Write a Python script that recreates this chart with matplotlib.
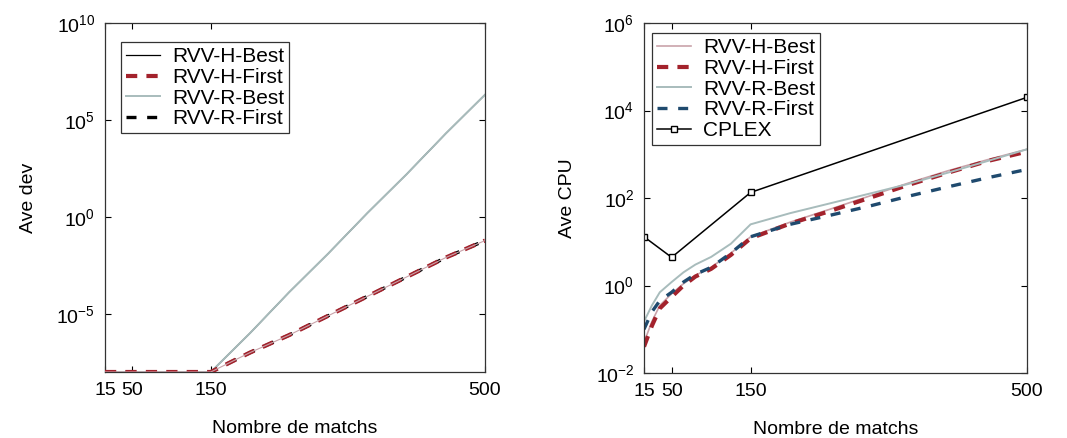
import matplotlib
matplotlib.use("Agg")
import matplotlib.pyplot as plt
from matplotlib.ticker import FixedLocator, NullLocator

plt.rcParams['font.family'] = ['Liberation Sans', 'DejaVu Sans']
plt.rcParams['mathtext.default'] = 'regular'

# ---- data: left panel (Ave dev) ----
x_dev = [15, 50, 100, 150, 200, 250, 300, 350, 400, 450, 500]
dev_h_best = [1e-8, 1e-8, 1e-8, 1e-8, 1e-6, 1.3e-4, 1.3e-2, 1.6, 1.6e2, 2e4, 2e6]
dev_h_first = [1e-8, 1e-8, 1e-8, 1e-8, 1e-7, 8e-7, 8e-6, 8e-5, 8e-4, 8e-3, 6e-2]
dev_r_best = [1e-8, 1e-8, 1e-8, 1e-8, 1e-6, 1.3e-4, 1.3e-2, 1.6, 1.6e2, 2e4, 2e6]
dev_r_first = [1e-8, 1e-8, 1e-8, 1e-8, 1e-7, 8e-7, 8e-6, 8e-5, 8e-4, 8e-3, 6e-2]

# ---- data: right panel (Ave CPU) ----
x_cpu = [15, 25, 35, 50, 65, 80, 100, 125, 150, 200, 250, 300, 350, 400, 450, 500]
cpu_h_best = [0.05, 0.15, 0.35, 0.65, 1.1, 1.7, 2.6, 5.5, 13, 28, 55, 110, 220, 420, 750, 1300]
cpu_h_first = [0.04, 0.12, 0.3, 0.55, 1.0, 1.6, 2.4, 5.0, 12, 26, 50, 100, 200, 380, 700, 1150]
cpu_r_best = [0.15, 0.35, 0.7, 1.2, 2.0, 3.0, 4.5, 9, 25, 45, 75, 125, 210, 380, 700, 1300]
cpu_r_first = [0.1, 0.25, 0.45, 0.7, 1.2, 1.8, 2.6, 5.5, 13, 25, 40, 65, 110, 180, 290, 450]
x_cplex = [15, 50, 150, 500]
cpu_cplex = [13, 4.4, 134, 2e4]

x_ticks = [15, 50, 150, 500]
x_ticklabels = ["15", "50", "150", "500"]
dev_yticks = [1e-5, 1e0, 1e5, 1e10]
dev_yticklabels = [r'$10^{-5}$', r'$10^{0}$', r'$10^{5}$', r'$10^{10}$']
cpu_yticks = [1e-2, 1e0, 1e2, 1e4, 1e6]
cpu_yticklabels = [r'$10^{-2}$', r'$10^{0}$', r'$10^{2}$', r'$10^{4}$', r'$10^{6}$']

labels4 = ["RVV-H-Best", "RVV-H-First", "RVV-R-Best", "RVV-R-First"]

W, H = 1067, 438
fig = plt.figure(figsize=(W / 100, H / 100), dpi=100)

def px_axes(x0, x1, ytop, ybot):
    return fig.add_axes([x0 / W, 1 - ybot / H, (x1 - x0) / W, (ybot - ytop) / H])

ax1 = px_axes(105, 485, 23, 372)
ax2 = px_axes(644, 1027, 23, 373)

red = '#a3222c'
teal = '#a8bcbc'
pink = '#c9a3aa'
blue = '#1f4a6e'

# left panel
ax1.plot(x_dev, dev_h_best, color='black', lw=0.9, label=labels4[0], zorder=2)
ax1.plot(x_dev, dev_h_first, color=red, lw=3, dashes=(2.7, 2.2), label=labels4[1], zorder=4)
ax1.plot(x_dev, dev_r_best, color=teal, lw=1.4, label=labels4[2], zorder=2.5)
ax1.plot(x_dev, dev_r_first, color='black', lw=2.4, dashes=(3, 3.2), label=labels4[3], zorder=3)
ax1.plot(x_dev, dev_h_first, color=pink, lw=0.8, zorder=5)
ax1.set_yscale('log')
ax1.set_ylim(1e-8, 1e10)
ax1.set_ylabel('Ave dev', fontsize=14, labelpad=14)
ax1.yaxis.set_major_locator(FixedLocator(dev_yticks))
ax1.set_yticklabels(dev_yticklabels)

# right panel
ax2.plot(x_cpu, cpu_h_best, color=pink, lw=1.2, label=labels4[0])
ax2.plot(x_cpu, cpu_h_first, color=red, lw=3, dashes=(2.7, 2.2), label=labels4[1])
ax2.plot(x_cpu, cpu_r_best, color=teal, lw=1.4, label=labels4[2])
ax2.plot(x_cpu, cpu_r_first, color=blue, lw=2.4, dashes=(3, 3.2), label=labels4[3])
ax2.plot(x_cplex, cpu_cplex, color='black', lw=1.1, marker='s', ms=5,
         mfc='white', mec='black', mew=1, label='CPLEX')
ax2.set_yscale('log')
ax2.set_ylim(1e-2, 1e6)
ax2.set_ylabel('Ave CPU', fontsize=14, labelpad=14)
ax2.yaxis.set_major_locator(FixedLocator(cpu_yticks))
ax2.set_yticklabels(cpu_yticklabels)

for ax in (ax1, ax2):
    ax.set_xlim(15, 500)
    ax.set_xticks(x_ticks)
    ax.set_xticklabels(x_ticklabels)
    ax.yaxis.set_minor_locator(NullLocator())
    ax.xaxis.set_minor_locator(NullLocator())
    ax.tick_params(direction='in', top=True, right=True, labelsize=14, length=4, width=0.8, pad=7)
    ax.set_xlabel('Nombre de matchs', fontsize=14, labelpad=15)
    for s in ax.spines.values():
        s.set_linewidth(0.9)
        s.set_color('#333333')

leg_kw = dict(fontsize=15, frameon=True, fancybox=False, edgecolor='black',
              handlelength=1.6, borderpad=0.25, labelspacing=0.08, handletextpad=0.6,
              borderaxespad=0)

leg1 = ax1.legend(loc='upper left', bbox_to_anchor=((121 - 105) / 380, (372 - 42) / 349), **leg_kw)
leg1.get_frame().set_linewidth(0.9)
leg2 = ax2.legend(loc='upper left', bbox_to_anchor=((652 - 644) / 383, (373 - 33) / 350), **leg_kw)
leg2.get_frame().set_linewidth(0.9)

fig.savefig('out.png', dpi=100)
